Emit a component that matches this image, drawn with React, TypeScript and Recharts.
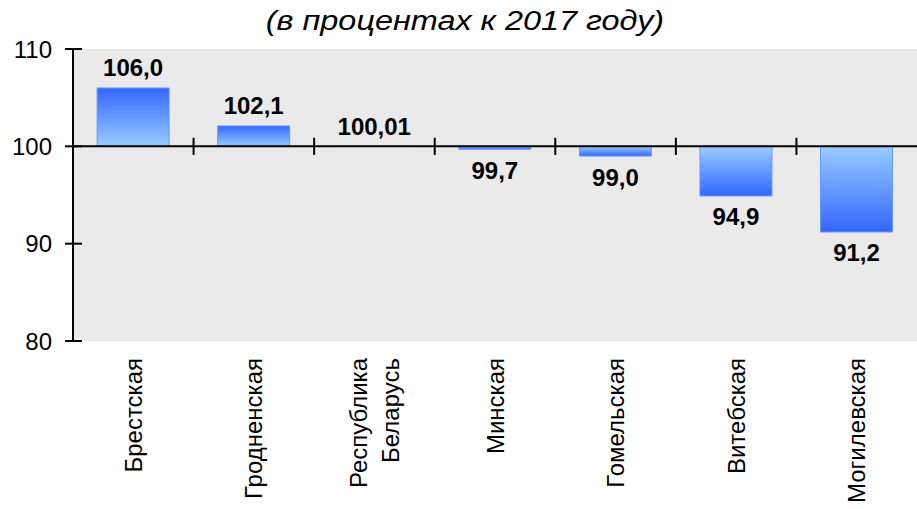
import { BarChart, Bar, XAxis, YAxis, CartesianGrid, ReferenceLine, Cell, LabelList } from 'recharts';

const regions = ['Брестская', 'Гродненская', 'Республика\nБеларусь', 'Минская', 'Гомельская', 'Витебская', 'Могилевская'];
const indexValues = [106.0, 102.1, 100.01, 99.7, 99.0, 94.9, 91.2];
const valueLabels = ['106,0', '102,1', '100,01', '99,7', '99,0', '94,9', '91,2'];
const yTicks = [80, 90, 100, 110];

const BASE = 100;

const data = regions.map((name, i) => ({
   name,
   range: [BASE, indexValues[i]],
   value: indexValues[i],
   label: valueLabels[i],
}));

const font = 'Arial, "Liberation Sans", sans-serif';

function YTick({ x, y, payload }: any) {
   // x is the text anchor; the tick line crosses the axis on both sides
   const x1 = x + 4;
   return (
      <g>
         <line x1={x1} x2={x1 + 17} y1={y} y2={y} stroke="#000" strokeWidth={2} />
         <text x={x - 9} y={y} textAnchor="end" dominantBaseline="central" fontSize={24} fontFamily={font} fill="#000">
            {payload.value}
         </text>
      </g>
   );
}

function XTick({ x, y, payload }: any) {
   const lines = String(payload.value).split('\n');
   return (
      <g>
         {lines.map((ln, i) => {
            const cx = x + (i - (lines.length - 1) / 2) * 32;
            return (
               <text key={i} x={cx} y={y} transform={`rotate(-90, ${cx}, ${y})`} textAnchor="end"
                  dominantBaseline="central" fontSize={24} fontFamily={font} fill="#000">
                  {ln}
               </text>
            );
         })}
      </g>
   );
}

function ValueLabel(props: any) {
   const { x, y, width, height, index } = props;
   const v = indexValues[index];
   const cx = x + width / 2;
   const top = Math.min(y, y + height);
   const bottom = Math.max(y, y + height);
   const ty = v >= BASE ? top - 20 : bottom + 21;
   return (
      <text x={cx} y={ty} textAnchor="middle" dominantBaseline="central" fontSize={24} fontWeight="bold" fontFamily={font} fill="#000">
         {valueLabels[index]}
      </text>
   );
}

export default function App() {
   return (
      <div style={{ position: 'absolute', left: 0, top: 0, width: 917, height: 509, background: '#fff' }}>
         <div style={{ position: 'absolute', left: 0, top: 6, width: 930, textAlign: 'center', fontFamily: font, fontStyle: 'italic', fontSize: 27, color: '#000', transform: 'scaleX(1.2)', transformOrigin: '465px 0' }}>
            (в процентах к 2017 году)
         </div>
         <BarChart width={917} height={509} data={data} margin={{ top: 49, right: 0, left: 0, bottom: 0 }} barCategoryGap="20%">
            <defs>
               <linearGradient id="gradUp" x1="0" y1="0" x2="0" y2="1">
                  <stop offset="0%" stopColor="#3366ff" />
                  <stop offset="100%" stopColor="#99ccff" />
               </linearGradient>
               <linearGradient id="gradDown" x1="0" y1="0" x2="0" y2="1">
                  <stop offset="0%" stopColor="#99ccff" />
                  <stop offset="100%" stopColor="#3366ff" />
               </linearGradient>
            </defs>
            <CartesianGrid horizontal={false} vertical={false} fill="#eaeaea" stroke="none" />
            <XAxis dataKey="name" height={168} axisLine={false} tickLine={false} tickSize={0} tickMargin={17} interval={0} tick={<XTick />} />
            <YAxis width={73} domain={[80, 110]} ticks={yTicks} interval={0} tickSize={8} tickMargin={4}
               axisLine={{ stroke: '#000', strokeWidth: 2 }} tickLine={false} tick={<YTick />} />
            <Bar dataKey="range" stroke="#6699ff" strokeWidth={1} isAnimationActive={false}>
               {data.map((d, i) => (
                  <Cell key={i} fill={d.value >= BASE ? 'url(#gradUp)' : 'url(#gradDown)'} />
               ))}
               <LabelList dataKey="label" content={<ValueLabel />} />
            </Bar>
            <ReferenceLine y={BASE} stroke="#000" strokeWidth={2} />
            {regions.slice(1).map((r) => (
               <ReferenceLine key={r} position="start" stroke="#000" strokeWidth={2}
                  segment={[{ x: r, y: 99.12 }, { x: r, y: 100.88 }]} />
            ))}
         </BarChart>
      </div>
   );
}
